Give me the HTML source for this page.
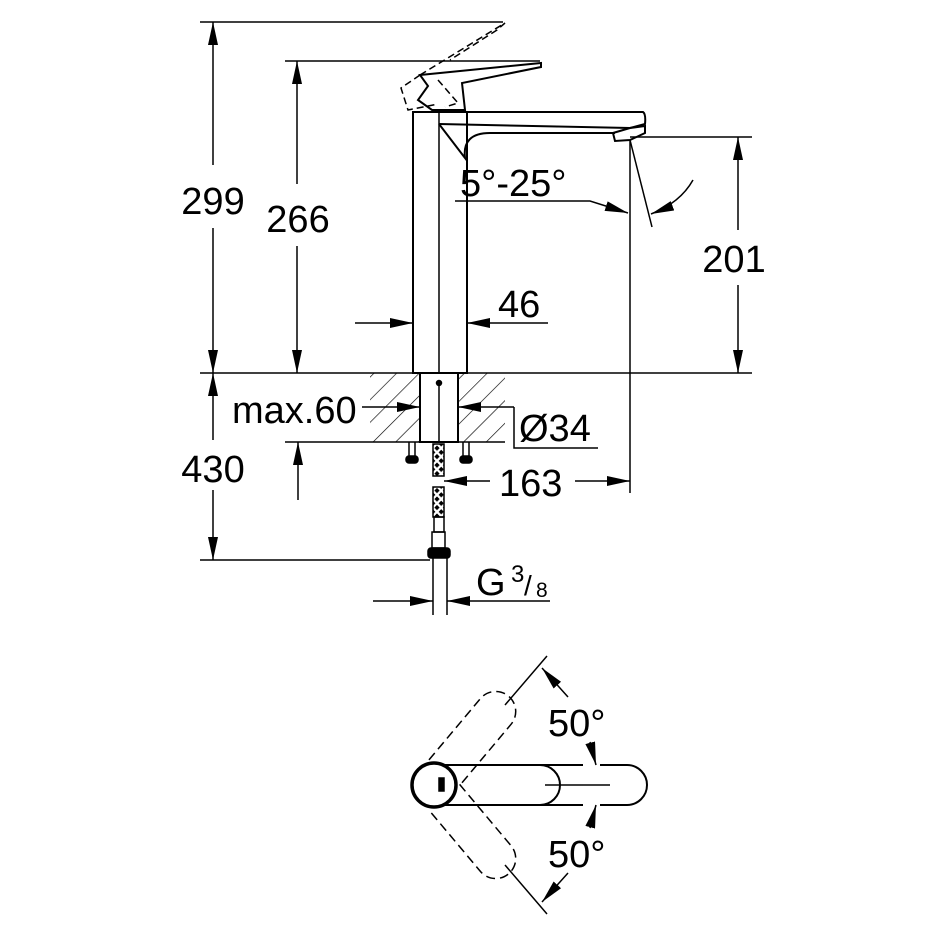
<!DOCTYPE html>
<html><head><meta charset="utf-8"><style>html,body{margin:0;padding:0;background:#fff}svg{display:block}</style></head>
<body>
<svg width="940" height="940" viewBox="0 0 940 940" xmlns="http://www.w3.org/2000/svg" font-family="Liberation Sans, sans-serif" fill="none" stroke="#000" stroke-width="1.5">
<defs>
<marker id="a" markerWidth="24" markerHeight="10" refX="23" refY="5" orient="auto" markerUnits="userSpaceOnUse"><path d="M0,0 L23,5 L0,10 z" fill="#000" stroke="none"/></marker>
<pattern id="h" width="16" height="16" patternUnits="userSpaceOnUse" patternTransform="rotate(45)"><line x1="0" y1="0" x2="0" y2="16" stroke="#000" stroke-width="1.3"/></pattern>
<pattern id="h2" width="6" height="6" patternUnits="userSpaceOnUse" patternTransform="rotate(45)"><rect width="3" height="3" fill="#000"/></pattern>
</defs>
<!-- extension lines -->
<line x1="200" y1="22" x2="503" y2="22"/>
<line x1="285" y1="61" x2="540" y2="61"/>
<line x1="200" y1="373" x2="752" y2="373"/>
<line x1="630" y1="137" x2="752" y2="137"/>
<line x1="200" y1="560" x2="430" y2="560"/>
<line x1="285" y1="442" x2="370" y2="442"/>
<!-- 299 -->
<line x1="213" y1="165" x2="213" y2="22" marker-end="url(#a)"/>
<line x1="213" y1="228" x2="213" y2="373" marker-end="url(#a)"/>
<text x="213" y="214" font-size="38" text-anchor="middle" fill="#000" stroke="none">299</text>
<!-- 266 -->
<line x1="297" y1="184" x2="297" y2="61" marker-end="url(#a)"/>
<line x1="297" y1="246" x2="297" y2="373" marker-end="url(#a)"/>
<text x="298" y="232" font-size="38" text-anchor="middle" fill="#000" stroke="none">266</text>
<!-- 201 -->
<line x1="738" y1="230" x2="738" y2="137" marker-end="url(#a)"/>
<line x1="738" y1="285" x2="738" y2="373" marker-end="url(#a)"/>
<text x="734" y="272" font-size="38" text-anchor="middle" fill="#000" stroke="none">201</text>
<!-- 430 -->
<line x1="213" y1="440" x2="213" y2="373" marker-end="url(#a)"/>
<line x1="213" y1="490" x2="213" y2="560" marker-end="url(#a)"/>
<text x="213" y="482" font-size="38" text-anchor="middle" fill="#000" stroke="none">430</text>
<line x1="298" y1="500" x2="298" y2="442" marker-end="url(#a)"/>
<!-- body -->
<rect x="413" y="112" width="54" height="261" stroke-width="2"/>
<line x1="439" y1="112" x2="439" y2="373"/>
<path d="M413,112 L643,112 Q646,114 645,124 L630,128 L439,124" stroke-width="2"/>
<path d="M439,124 L465,158 Q462,133 490,133 L615,133" stroke-width="2"/>
<path d="M613,133 L615,141 L630,140 L645,133 L645,126 L630,128 z" stroke-width="2"/>
<!-- handle -->
<path d="M420,75 L541,63 L541,67 L462,83 L465,110 L432,110 L418,100 L428,86 z" stroke-width="2"/>
<path d="M420,75 L505,23 L497,30 L450,60" stroke-dasharray="7,4"/>
<path d="M420,75 L401,88 L408,110 L438,104 M438,80 L458,103 L445,107" stroke-dasharray="7,4"/>
<!-- 5-25 -->
<text x="460" y="196" font-size="38" fill="#000" stroke="none">5°-25°</text>
<path d="M455,201 L590,201 L628,213" marker-end="url(#a)"/>
<line x1="630" y1="140" x2="652" y2="227"/>
<path d="M693,180 Q680,203 651,214" marker-end="url(#a)"/>
<line x1="630" y1="140" x2="630" y2="493"/>
<!-- 46 -->
<line x1="355" y1="323" x2="413" y2="323" marker-end="url(#a)"/>
<line x1="548" y1="323" x2="467" y2="323" marker-end="url(#a)"/>
<text x="498" y="317" font-size="38" fill="#000" stroke="none">46</text>
<!-- slab -->
<rect x="370" y="373" width="135" height="69" fill="url(#h)" stroke="none"/>
<rect x="420" y="373" width="38" height="69" fill="#fff" stroke="#000" stroke-width="2"/>
<line x1="370" y1="442" x2="505" y2="442"/>
<line x1="439" y1="380" x2="439" y2="442"/>
<circle cx="439" cy="383" r="2.5" fill="#000"/>
<text x="232" y="423" font-size="38" fill="#000" stroke="none">max.60</text>
<line x1="362" y1="407" x2="420" y2="407" marker-end="url(#a)"/>
<line x1="514" y1="407" x2="458" y2="407" marker-end="url(#a)"/>
<path d="M514,407 L514,448 L598,448"/>
<text x="519" y="441" font-size="38" fill="#000" stroke="none">Ø34</text>
<!-- bolts -->
<g stroke-width="1.5"><line x1="409" y1="442" x2="409" y2="458"/><line x1="415" y1="442" x2="415" y2="458"/><rect x="406" y="456" width="12" height="7" rx="3" fill="#000"/>
<line x1="463" y1="442" x2="463" y2="458"/><line x1="469" y1="442" x2="469" y2="458"/><rect x="460" y="456" width="12" height="7" rx="3" fill="#000"/></g>
<!-- hose -->
<rect x="433" y="444" width="11" height="32" fill="url(#h2)"/>
<rect x="433" y="487" width="11" height="30" fill="url(#h2)"/>
<rect x="434" y="517" width="10" height="15"/>
<rect x="432" y="532" width="13" height="16"/>
<rect x="428" y="548" width="22" height="10" rx="3" fill="#000"/>
<line x1="433" y1="558" x2="433" y2="615"/><line x1="447" y1="558" x2="447" y2="615"/>
<!-- 163 -->
<line x1="490" y1="481" x2="444" y2="481" marker-end="url(#a)"/>
<line x1="575" y1="481" x2="630" y2="481" marker-end="url(#a)"/>
<text x="499" y="496" font-size="38" fill="#000" stroke="none">163</text>
<!-- G 3/8 -->
<line x1="373" y1="601" x2="433" y2="601" marker-end="url(#a)"/>
<line x1="550" y1="601" x2="447" y2="601" marker-end="url(#a)"/>
<text x="476" y="595" font-size="38" fill="#000" stroke="none">G</text>
<text x="511" y="582" font-size="24" fill="#000" stroke="none">3</text>
<text x="524" y="595" font-size="28" fill="#000" stroke="none">/</text>
<text x="536" y="597" font-size="21" fill="#000" stroke="none">8</text>
<!-- top view -->
<circle cx="434" cy="785" r="22" stroke-width="3.5"/>
<path d="M445,765 L540,765 A20,20 0 0 1 540,805 L445,805" stroke-width="2"/>
<path d="M540,765 L583,765 M600,765 L627,765 A20,20 0 0 1 627,805 L600,805 M583,805 L540,805" stroke-width="2"/>
<line x1="545" y1="785" x2="610" y2="785"/>
<rect x="439" y="778" width="5" height="13" fill="#000"/>
<g transform="rotate(-50 434 785)" stroke-dasharray="9,5"><path d="M450,765 L530,765 A20,20 0 0 1 530,805 L450,805"/></g>
<g transform="rotate(50 434 785)" stroke-dasharray="9,5"><path d="M450,765 L530,765 A20,20 0 0 1 530,805 L450,805"/></g>
<line x1="505" y1="705" x2="547" y2="656"/>
<line x1="505" y1="865" x2="547" y2="914"/>
<line x1="568" y1="697" x2="542" y2="668" marker-end="url(#a)"/>
<line x1="568" y1="873" x2="542" y2="902" marker-end="url(#a)"/>
<text x="548" y="736" font-size="38" fill="#000" stroke="none">50°</text>
<text x="548" y="867" font-size="38" fill="#000" stroke="none">50°</text>
<line x1="590" y1="742" x2="596" y2="765" marker-end="url(#a)"/>
<line x1="590" y1="828" x2="596" y2="805" marker-end="url(#a)"/>
</svg>
</body></html>
